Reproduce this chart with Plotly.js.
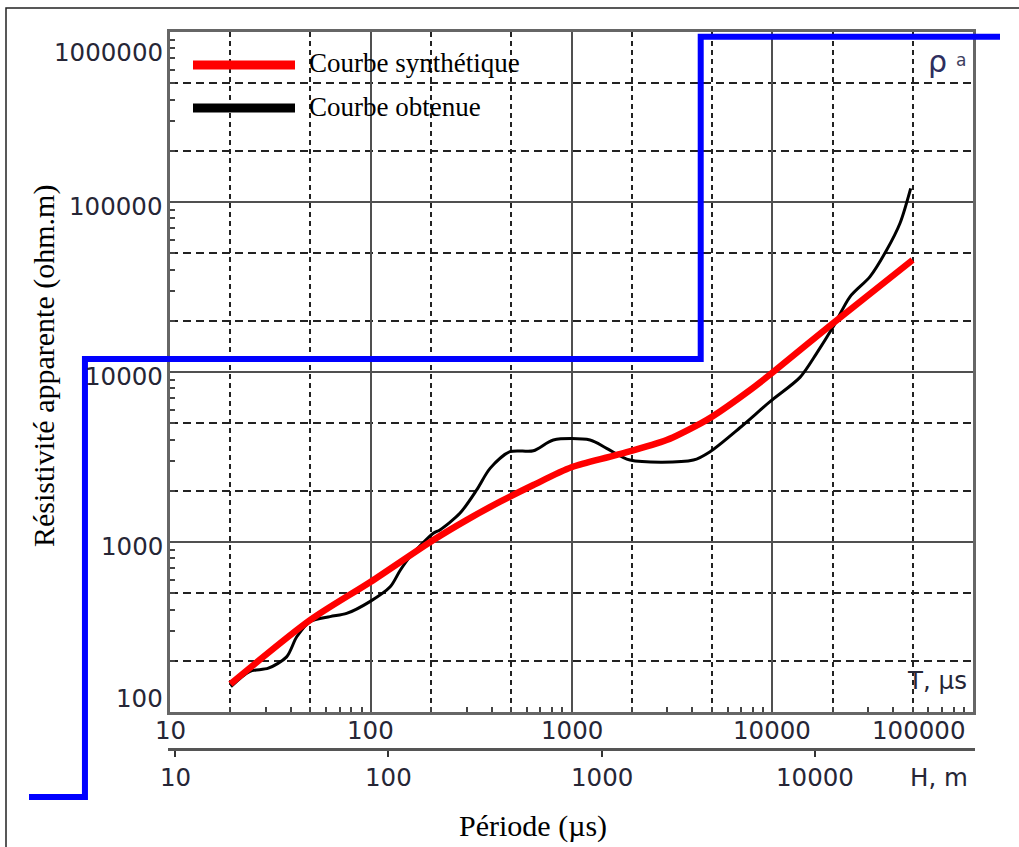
<!DOCTYPE html>
<html>
<head>
<meta charset="utf-8">
<script src="https://cdn.plot.ly/plotly-3.0.1.min.js"></script>
<style>html,body{margin:0;padding:0;background:#fff;}#chart{width:1019px;height:847px;}</style>
</head>
<body>
<div id="chart"></div>
<script>
// ---------------- data ----------------
const periodTicks = [10, 100, 1000, 10000, 100000];
const periodTickLabels = ['10', '100', '1000', '10000', '100000'];
const rhoTicks = [100, 1000, 10000, 100000, 1000000];
const rhoTickLabels = ['100', '1000', '10000', '100000', '1000000'];
const depthTicks = [10, 100, 1000, 10000];
const depthTickLabels = ['10', '100', '1000', '10000'];

// "Courbe obtenue" (black)
const obtPeriod = [20.1, 24.9, 30.9, 38.1, 42.8, 49.8, 62.7, 75.8, 99, 125, 140, 157, 205, 221, 278, 337, 393, 494, 646, 812, 1237, 1496, 1955, 4047, 4900, 6900, 9750, 13740, 16630, 20140, 24380, 30690, 37150, 43290, 48940];
const obtRho    = [141, 173, 181, 211, 277, 340, 364, 380, 446, 545, 680, 820, 1125, 1178, 1475, 2024, 2711, 3398, 3440, 3981, 3981, 3557, 3035, 3035, 3400, 4700, 6700, 9300, 12880, 18500, 27700, 36400, 52200, 75000, 120400];

// "Courbe synthétique" (red)
const synPeriod = [20, 50, 100, 205, 300, 441, 646, 1000, 1679, 2978, 4402, 5012, 7745, 10000, 20000, 50000];
const synRho    = [146, 348, 584, 1028, 1346, 1726, 2163, 2750, 3250, 3981, 4990, 5457, 7830, 9900, 19300, 45600];

// layered model (blue step)
const modelStart = 1.985;
const modelBounds = [3.77, 4402];
const modelEnd = 136300;
const modelRho = [31.6, 11930, 937600];

// ---------------- geometry ----------------
const W = 1019, H = 847;
const plotL = 170, plotR = 973, plotT = 32, plotB = 712;
const px = v => v / W;
const py = v => 1 - v / H;
const L10 = Math.log10;

const kx = 4 / (plotR - plotL);
const ky = 4 / (plotB - plotT);
const x2range = [1 - plotL * kx, 5 + (W - plotR) * kx];
const y2range = [2 - (H - plotB) * ky, 6 + plotT * ky];

const hL = 168, hR = 975, h10 = 175, h10000 = 815, hY = 749.3;
const kh = 3 / (h10000 - h10);
const x4range = [1 - (h10 - hL) * kh, 4 + (hR - h10000) * kh];

// step arrays
const stepX = [modelStart], stepY = [modelRho[0]];
modelBounds.forEach((b, i) => { stepX.push(b, b); stepY.push(modelRho[i], modelRho[i + 1]); });
stepX.push(modelEnd); stepY.push(modelRho[modelRho.length - 1]);

const minorGridVals = [], minorTickX = [], minorTickY = [];
for (let d = 1; d <= 100000; d *= 10) {
  [2, 5].forEach(m => minorGridVals.push(m * d));
  [3, 4, 6, 7, 8, 9].forEach(m => { minorTickX.push(m * d); minorTickY.push(m * d); });
}

const traces = [
  {x: obtPeriod, y: obtRho, xaxis: 'x', yaxis: 'y', mode: 'lines',
   line: {color: '#000000', width: 3, shape: 'spline', smoothing: 0.8}, hoverinfo: 'skip', showlegend: false},
  {x: synPeriod, y: synRho, xaxis: 'x', yaxis: 'y', mode: 'lines',
   line: {color: '#ff0000', width: 6.5, shape: 'spline', smoothing: 0.8}, hoverinfo: 'skip', showlegend: false},
  {x: [null], y: [null], xaxis: 'x3', yaxis: 'y3', mode: 'lines', hoverinfo: 'skip', showlegend: false},
  {x: stepX, y: stepY, xaxis: 'x2', yaxis: 'y2', mode: 'lines',
   line: {color: '#0000ff', width: 6}, hoverinfo: 'skip', showlegend: false},
  {x: [null], y: [null], xaxis: 'x4', yaxis: 'y2', mode: 'lines', hoverinfo: 'skip', showlegend: false}
];

const tickFont = {family: 'DejaVu Sans', size: 24.5, color: '#262636'};
const serif = 'Liberation Serif';

const annotations = [];
periodTicks.forEach((v, i) => {
  const last = i === periodTicks.length - 1;
  annotations.push({xref: 'x', yref: 'paper', x: L10(v), y: py(730), text: periodTickLabels[i],
    showarrow: false, font: tickFont, xanchor: last ? 'right' : 'center', xshift: last ? -5 : 0, yanchor: 'middle'});
});
rhoTicks.forEach((v, i) => {
  const sh = i === 0 ? 14 : (i === rhoTicks.length - 1 ? -20 : -4);
  annotations.push({xref: 'paper', yref: 'y', x: px(165), y: L10(v), text: rhoTickLabels[i],
    showarrow: false, font: tickFont, xanchor: 'right', yanchor: 'middle', yshift: sh});
});
depthTicks.forEach((v, i) => {
  annotations.push({xref: 'x4', yref: 'paper', x: L10(v), y: py(777), text: depthTickLabels[i],
    showarrow: false, font: tickFont, xanchor: 'center', yanchor: 'middle'});
});
annotations.push(
  {xref: 'paper', yref: 'paper', x: px(970), y: py(777), text: 'H, m', showarrow: false, font: tickFont, xanchor: 'right', yanchor: 'middle'},
  {xref: 'paper', yref: 'paper', x: px(969), y: py(680), text: 'T, µs', showarrow: false, font: tickFont, xanchor: 'right', yanchor: 'middle'},
  {xref: 'paper', yref: 'paper', x: px(937), y: py(62), text: 'ρ', showarrow: false, font: {family: 'DejaVu Sans', size: 30, color: '#2e2e5e'}, xanchor: 'center', yanchor: 'middle'},
  {xref: 'paper', yref: 'paper', x: px(961), y: py(60), text: 'a', showarrow: false, font: {family: 'DejaVu Sans', size: 17, color: '#3e3e5e'}, xanchor: 'center', yanchor: 'middle'},
  {xref: 'paper', yref: 'paper', x: px(307), y: py(63), text: 'Courbe synthétique', showarrow: false, font: {family: serif, size: 27, color: '#000'}, xanchor: 'left', yanchor: 'middle'},
  {xref: 'paper', yref: 'paper', x: px(307), y: py(107), text: 'Courbe obtenue', showarrow: false, font: {family: serif, size: 27, color: '#000'}, xanchor: 'left', yanchor: 'middle'},
  {xref: 'paper', yref: 'paper', x: px(44), y: py(366), text: 'Résistivité apparente (ohm.m)', showarrow: false, textangle: -90, font: {family: serif, size: 30, color: '#000'}, xanchor: 'center', yanchor: 'middle'},
  {xref: 'paper', yref: 'paper', x: px(533), y: py(826), text: 'Période (µs)', showarrow: false, font: {family: serif, size: 30, color: '#000'}, xanchor: 'center', yanchor: 'middle'}
);

const shapes = [
  {type: 'rect', xref: 'paper', yref: 'paper', x0: px(6), y0: -0.05, x1: 1.05, y1: py(8), line: {color: '#222', width: 1.5}},
  {type: 'line', xref: 'paper', yref: 'paper', x0: px(193), x1: px(295), y0: py(65), y1: py(65), line: {color: '#ff0000', width: 9}},
  {type: 'line', xref: 'paper', yref: 'paper', x0: px(193), x1: px(295), y0: py(108), y1: py(108), line: {color: '#000000', width: 9}}
];

const layout = {
  width: W, height: H, autosize: false,
  margin: {l: 0, r: 0, t: 0, b: 0, pad: 0},
  paper_bgcolor: '#ffffff', plot_bgcolor: 'rgba(0,0,0,0)',
  showlegend: false,
  xaxis: {type: 'log', domain: [px(plotL), px(plotR)], range: [1, 5], anchor: 'y',
    tickvals: periodTicks, showticklabels: false, ticks: '',
    showgrid: true, gridcolor: '#505050', gridwidth: 2,
    showline: true, linecolor: '#666666', linewidth: 3, mirror: true, zeroline: false,
    minor: {tickvals: minorGridVals, showgrid: true, gridcolor: '#222222', gridwidth: 2, griddash: '5px,4px', ticks: 'inside', ticklen: 5, tickwidth: 2, tickcolor: '#444'}},
  yaxis: {type: 'log', domain: [py(plotB), py(plotT)], range: [2, 6], anchor: 'x',
    tickvals: rhoTicks, showticklabels: false, ticks: '',
    showgrid: true, gridcolor: '#505050', gridwidth: 2,
    showline: true, linecolor: '#666666', linewidth: 3, mirror: true, zeroline: false,
    minor: {tickvals: minorGridVals, showgrid: true, gridcolor: '#222222', gridwidth: 2, griddash: '8px,5px', ticks: 'inside', ticklen: 5, tickwidth: 2, tickcolor: '#444'}},
  xaxis3: {type: 'log', overlaying: 'x', anchor: 'y3', range: [1, 5], tickvals: minorTickX, ticks: 'inside', ticklen: 5, tickwidth: 2, tickcolor: '#444',
    showticklabels: false, showgrid: false, showline: false, zeroline: false},
  yaxis3: {type: 'log', overlaying: 'y', anchor: 'x3', range: [2, 6], tickvals: minorTickY, ticks: 'inside', ticklen: 5, tickwidth: 2, tickcolor: '#444',
    showticklabels: false, showgrid: false, showline: false, zeroline: false},
  xaxis2: {type: 'log', domain: [0, 1], range: x2range, anchor: 'y2', visible: false, showgrid: false, zeroline: false},
  yaxis2: {type: 'log', domain: [0, 1], range: y2range, anchor: 'x2', visible: false, showgrid: false, zeroline: false},
  xaxis4: {type: 'log', domain: [px(hL), px(hR)], range: x4range, anchor: 'free', position: py(hY),
    tickvals: depthTicks, showticklabels: false, ticks: 'outside', ticklen: 6, tickwidth: 2, tickcolor: '#333',
    showline: true, linecolor: '#555555', linewidth: 2.5, showgrid: false, zeroline: false},
  annotations: annotations,
  shapes: shapes
};

Plotly.newPlot('chart', traces, layout, {staticPlot: true, displayModeBar: false});
</script>
</body>
</html>
